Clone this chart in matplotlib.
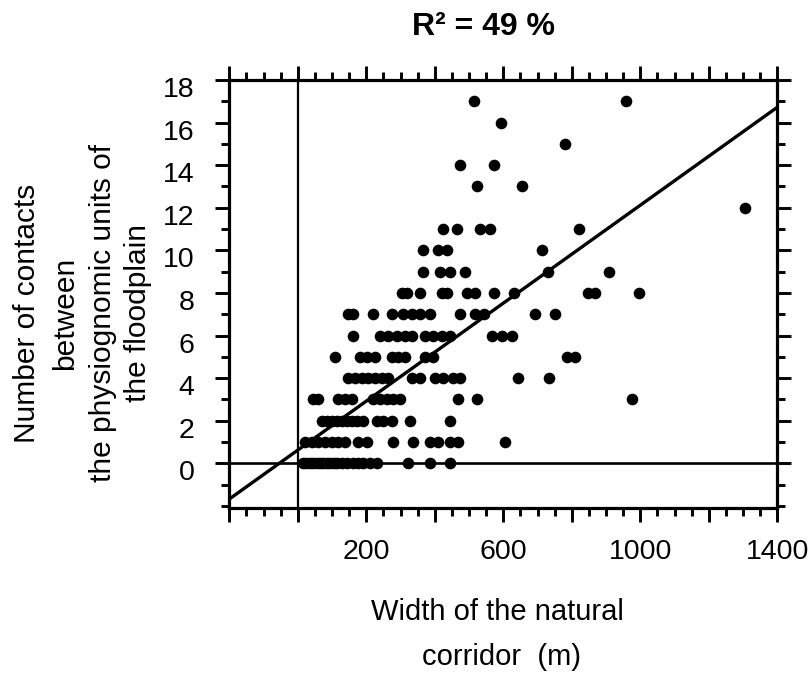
import matplotlib
matplotlib.use("Agg")
import matplotlib.pyplot as plt
import matplotlib.transforms as mtransforms
from matplotlib.ticker import FixedLocator, MultipleLocator, FuncFormatter
import numpy as np

plt.rcParams['font.family'] = ['Liberation Sans', 'DejaVu Sans']

# corridor width (m) of the points, one list per number of contacts
contacts_0 = [15, 25, 35, 45, 55, 65, 75, 85, 95, 105, 115, 130, 145, 160, 175, 190, 210, 232, 323, 386, 444]
contacts_1 = [21, 41, 60, 79, 99, 118, 138, 177, 201, 279, 337, 386, 410, 444, 469, 605]
contacts_2 = [70, 84, 99, 114, 128, 143, 157, 172, 191, 230, 250, 274, 328, 444]
contacts_3 = [45, 60, 118, 138, 157, 220, 240, 259, 279, 298, 469, 522, 976]
contacts_4 = [147, 167, 187, 206, 225, 245, 264, 332, 357, 401, 425, 454, 474, 644, 733]
contacts_5 = [109, 181, 201, 225, 274, 293, 313, 371, 396, 786, 809]
contacts_6 = [162, 240, 264, 289, 313, 332, 371, 396, 420, 444, 566, 595, 624]
contacts_7 = [147, 162, 220, 274, 308, 332, 357, 386, 474, 518, 545, 693, 751]
contacts_8 = [305, 320, 358, 422, 435, 495, 518, 573, 632, 848, 868, 997]
contacts_9 = [366, 415, 444, 488, 731, 910]
contacts_10 = [366, 410, 435, 712]
contacts_11 = [425, 466, 532, 561, 821]
contacts_12 = [1306]
contacts_13 = [524, 654]
contacts_14 = [474, 573]
contacts_15 = [780]
contacts_16 = [592]
contacts_17 = [515, 957]

rows = [contacts_0, contacts_1, contacts_2, contacts_3, contacts_4, contacts_5,
        contacts_6, contacts_7, contacts_8, contacts_9, contacts_10, contacts_11,
        contacts_12, contacts_13, contacts_14, contacts_15, contacts_16, contacts_17]

# fitted line  y = a + b*x
fit_intercept = 0.62
fit_slope = 0.0115

x_labels = {200: '200', 600: '600', 1000: '1000', 1400: '1400'}

widths = np.concatenate([np.array(r, float) for r in rows])
counts = np.concatenate([np.full(len(r), i) for i, r in enumerate(rows)])

fig = plt.figure(figsize=(8.08, 6.73), dpi=100)
ax = fig.add_axes([229.3 / 808, 1 - 508 / 673, 548 / 808, 428 / 673])

ax.scatter(widths, counts, s=70, color='black', zorder=3, linewidths=0)
xs = np.array([-200, 1400])
ax.plot(xs, fit_intercept + fit_slope * xs, color='black', lw=2.4, zorder=4)
ax.axhline(0, color='black', lw=1.9)
ax.axvline(0, color='black', lw=1.6)

ax.set_xlim(-200, 1400)
ax.set_ylim(-2.1, 18)

for s in ax.spines.values():
    s.set_linewidth(2.3)

ax.xaxis.set_major_locator(FixedLocator(list(range(-200, 1401, 200))))
ax.xaxis.set_minor_locator(MultipleLocator(50))
ax.yaxis.set_major_locator(FixedLocator(list(range(0, 19, 2))))
ax.yaxis.set_minor_locator(MultipleLocator(1))
ax.xaxis.set_major_formatter(FuncFormatter(lambda v, p: x_labels.get(int(round(v)), '')))
ax.yaxis.set_major_formatter(FuncFormatter(lambda v, p: '%d' % v))

ax.tick_params(which='both', direction='out', top=True, right=True, width=2.1, colors='black')
ax.tick_params(which='major', length=10, labelsize=20.5)
ax.tick_params(axis='x', which='major', pad=12)
ax.tick_params(axis='y', which='major', pad=15)
ax.tick_params(which='minor', length=6)

# y labels sit a little below their ticks in the original
off = mtransforms.ScaledTranslation(0, -7 / 100, fig.dpi_scale_trans)
for lab in ax.get_yticklabels():
    lab.set_transform(lab.get_transform() + off)

fig.text(484 / 808, 1 - 27 / 673, 'R² = 49 %', ha='center', va='center',
         fontsize=23, fontweight='bold')

ylab_lines = ['Number of contacts', 'between', 'the physiognomic units of', 'the floodplain']
ylab_x = [27, 65, 103, 138]
for t, px in zip(ylab_lines, ylab_x):
    fig.text(px / 808, 1 - 313 / 673, t, rotation=90, ha='center', va='center', fontsize=21.5)

fig.text(497 / 808, 1 - 612 / 673, 'Width of the natural', ha='center', va='center', fontsize=21)
fig.text(502 / 808, 1 - 657 / 673, 'corridor  (m)', ha='center', va='center', fontsize=21)

fig.savefig('out.png', dpi=100)
